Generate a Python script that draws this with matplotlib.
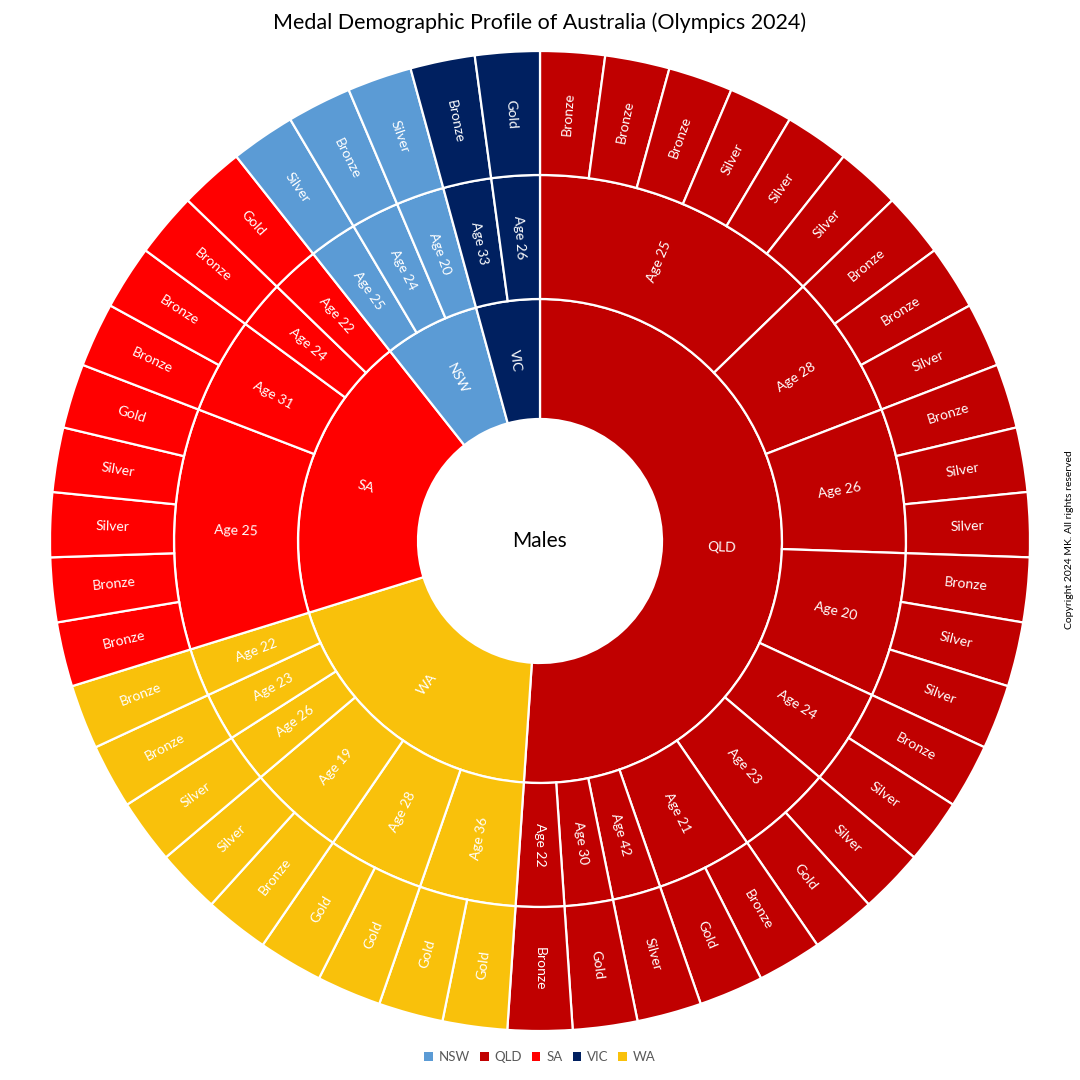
import matplotlib
matplotlib.use("Agg")
import matplotlib.pyplot as plt
from matplotlib.patches import Patch
import numpy as np

plt.rcParams['font.family'] = ['Lato', 'DejaVu Sans']

# ---------------- data ----------------
title = "Medal Demographic Profile of Australia (Olympics 2024)"
center_label = "Males"
copyright_text = "Copyright 2024 MK. All rights reserved"

state_order = ["QLD", "WA", "SA", "NSW", "VIC"]

qld_ages = ["Age 25", "Age 28", "Age 26", "Age 20", "Age 24", "Age 23", "Age 21", "Age 42", "Age 30", "Age 22"]
qld_medals = [["Bronze", "Bronze", "Bronze", "Silver", "Silver", "Silver"],
              ["Bronze", "Bronze", "Silver"],
              ["Bronze", "Silver", "Silver"],
              ["Bronze", "Silver", "Silver"],
              ["Bronze", "Silver"],
              ["Silver", "Gold"],
              ["Bronze", "Gold"],
              ["Silver"],
              ["Gold"],
              ["Bronze"]]

wa_ages = ["Age 36", "Age 28", "Age 19", "Age 26", "Age 23", "Age 22"]
wa_medals = [["Gold", "Gold"], ["Gold", "Gold"], ["Bronze", "Silver"], ["Silver"], ["Bronze"], ["Bronze"]]

sa_ages = ["Age 25", "Age 31", "Age 24", "Age 22"]
sa_medals = [["Bronze", "Bronze", "Silver", "Silver", "Gold"], ["Bronze", "Bronze"], ["Bronze"], ["Gold"]]

nsw_ages = ["Age 25", "Age 24", "Age 20"]
nsw_medals = [["Silver"], ["Bronze"], ["Silver"]]

vic_ages = ["Age 33", "Age 26"]
vic_medals = [["Bronze"], ["Gold"]]

legend_states = ["NSW", "QLD", "SA", "VIC", "WA"]
state_colors = {"NSW": "#5B9BD5", "QLD": "#C00000", "SA": "#FF0000", "VIC": "#002060", "WA": "#F9C10B"}

# ---------------- build rings ----------------
state_ages = {"QLD": qld_ages, "WA": wa_ages, "SA": sa_ages, "NSW": nsw_ages, "VIC": vic_ages}
state_medals = {"QLD": qld_medals, "WA": wa_medals, "SA": sa_medals, "NSW": nsw_medals, "VIC": vic_medals}

inner_sizes, inner_labels, inner_colors = [], [], []
mid_sizes, mid_labels, mid_colors = [], [], []
out_sizes, out_labels, out_colors = [], [], []
for s in state_order:
    n_state = sum(len(m) for m in state_medals[s])
    inner_sizes.append(n_state)
    inner_labels.append(s)
    inner_colors.append(state_colors[s])
    for age, meds in zip(state_ages[s], state_medals[s]):
        mid_sizes.append(len(meds))
        mid_labels.append(age)
        mid_colors.append(state_colors[s])
        for m in meds:
            out_sizes.append(1)
            out_labels.append(m)
            out_colors.append(state_colors[s])

# ---------------- figure ----------------
W = H = 1080
fig = plt.figure(figsize=(10.8, 10.8), dpi=100)
ax = fig.add_axes([0, 0, 1, 1])

cx, cy = 540, 1080 - 541
R_out, R_mid, R_in, R_hole = 490, 366, 242, 122

rings = [
    (inner_sizes, inner_labels, inner_colors, R_in, R_in - R_hole),
    (mid_sizes, mid_labels, mid_colors, R_mid, R_mid - R_in),
    (out_sizes, out_labels, out_colors, R_out, R_out - R_mid),
]

for sizes, labels, colors, radius, width in rings:
    wedges, _ = ax.pie(sizes, radius=radius, center=(cx, cy), startangle=90,
                       counterclock=False, colors=colors,
                       wedgeprops=dict(width=width, edgecolor="white", linewidth=1.6))
    for w, lab in zip(wedges, labels):
        th = (w.theta1 + w.theta2) / 2.0
        r = w.r - w.width / 2.0
        x = cx + r * np.cos(np.deg2rad(th))
        y = cy + r * np.sin(np.deg2rad(th))
        rot = ((th + 90) % 180) - 90
        ax.text(x, y, lab, ha="center", va="center", rotation=rot,
                rotation_mode="anchor", color="white", fontsize=10)

ax.text(cx, cy, center_label, ha="center", va="center", fontsize=15, color="black")

ax.set_xlim(0, W)
ax.set_ylim(0, H)
ax.set_aspect("equal")
ax.axis("off")

fig.text(0.5, 1 - 23 / 1080, title, ha="center", va="center", fontsize=15.5, color="black")
fig.text(1070 / 1080, 1 - 540 / 1080, copyright_text, ha="center", va="center",
         rotation=90, fontsize=7.5, color="black")

handles = [Patch(facecolor=state_colors[s], edgecolor="none", label=s) for s in legend_states]
leg = fig.legend(handles=handles, loc="center", bbox_to_anchor=(0.5, 1 - 1057 / 1080), ncol=5,
                 frameon=False, fontsize=9.5, handlelength=0.65, handleheight=0.65,
                 handletextpad=0.45, columnspacing=0.75)
for t in leg.get_texts():
    t.set_color("#595959")

fig.savefig("out.png", dpi=100, facecolor="white")
